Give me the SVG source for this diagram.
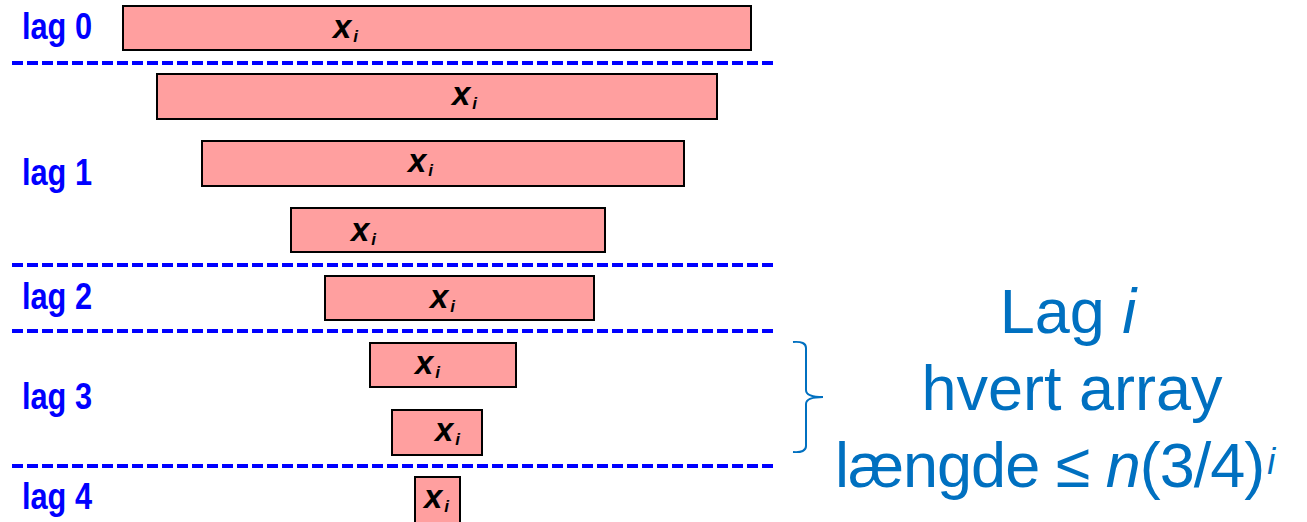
<svg xmlns="http://www.w3.org/2000/svg" width="1307" height="522" viewBox="0 0 1307 522">
<style>
.arr{fill:#ff9f9f;stroke:#000;stroke-width:2}
.xl{font-family:"Liberation Sans",Arial,sans-serif;font-weight:bold;font-style:italic;font-size:33px;fill:#000}
.xl tspan{font-size:17px}
.lag{font-family:"Liberation Sans",Arial,sans-serif;font-weight:bold;font-size:36px;fill:#0000ff}
.sep{stroke:#0000ff;stroke-width:4;stroke-dasharray:11 4;fill:none}
.big{font-family:"Liberation Sans",Arial,sans-serif;font-size:63px;fill:#0070c0;text-anchor:middle}
</style>
<g id="separators">
<line class="sep" x1="12" y1="63" x2="774" y2="63"/>
<line class="sep" x1="12" y1="265" x2="774" y2="265"/>
<line class="sep" x1="12" y1="331" x2="774" y2="331"/>
<line class="sep" x1="12" y1="466" x2="774" y2="466"/>
</g>
<g id="labels">
<text class="lag" x="22" y="39" textLength="70" lengthAdjust="spacingAndGlyphs">lag 0</text>
<text class="lag" x="22" y="185" textLength="70" lengthAdjust="spacingAndGlyphs">lag 1</text>
<text class="lag" x="22" y="309" textLength="70" lengthAdjust="spacingAndGlyphs">lag 2</text>
<text class="lag" x="22" y="409" textLength="70" lengthAdjust="spacingAndGlyphs">lag 3</text>
<text class="lag" x="22" y="509" textLength="70" lengthAdjust="spacingAndGlyphs">lag 4</text>
</g>
<g id="a1"><rect class="arr" x="123" y="6" width="628" height="44"/><text class="xl" x="333" y="38">x<tspan dx="2" dy="4">i</tspan></text></g>
<g id="a2"><rect class="arr" x="157" y="74" width="560" height="45"/><text class="xl" x="452" y="105">x<tspan dx="2" dy="4">i</tspan></text></g>
<g id="a3"><rect class="arr" x="202" y="141" width="482" height="45"/><text class="xl" x="408" y="172">x<tspan dx="2" dy="4">i</tspan></text></g>
<g id="a4"><rect class="arr" x="291" y="208" width="314" height="44"/><text class="xl" x="351" y="241">x<tspan dx="2" dy="4">i</tspan></text></g>
<g id="a5"><rect class="arr" x="325" y="276" width="269" height="44"/><text class="xl" x="430" y="308">x<tspan dx="2" dy="4">i</tspan></text></g>
<g id="a6"><rect class="arr" x="370" y="343" width="146" height="44"/><text class="xl" x="415" y="374">x<tspan dx="2" dy="4">i</tspan></text></g>
<g id="a7"><rect class="arr" x="392" y="410" width="90" height="45"/><text class="xl" x="435" y="441">x<tspan dx="2" dy="4">i</tspan></text></g>
<g id="a8"><rect class="arr" x="415" y="477" width="45" height="46"/><text class="xl" x="424" y="508">x<tspan dx="2" dy="4">i</tspan></text></g>
<g id="brace">
<path d="M793,342 Q806,341 806,348 L806,390 Q806,397 823,397 Q806,397 806,404 L806,446 Q806,453 793,452" fill="none" stroke="#0070c0" stroke-width="2"/>
</g>
<g id="note">
<text class="big" x="1068" y="333">Lag <tspan font-style="italic">i</tspan></text>
<text class="big" x="1072" y="410">hvert array</text>
<text class="big" x="835" y="487" style="text-anchor:start;letter-spacing:-1px">længde ≤ <tspan font-style="italic">n</tspan>(3/4)<tspan font-style="italic" font-size="36" dx="3" dy="-13">i</tspan></text>
</g>
</svg>
